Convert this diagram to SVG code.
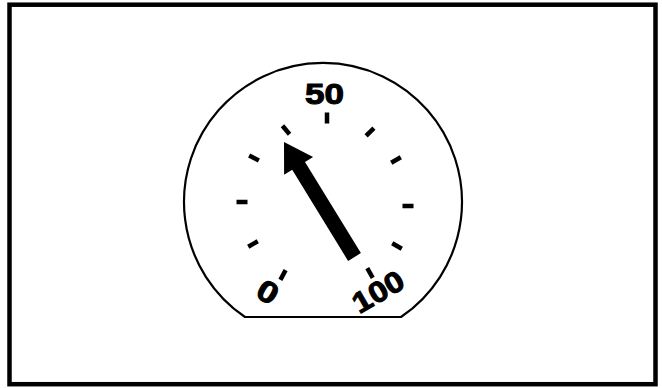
<svg xmlns="http://www.w3.org/2000/svg" width="662" height="388" viewBox="0 0 662 388">
<style>
.frame{fill:#fff;stroke:#000;stroke-width:4.5}
.dial{fill:#fff;stroke:#000;stroke-width:2.2}
.tick{fill:#000}
.lbl{font-family:"Liberation Sans",Arial,sans-serif;font-weight:bold;fill:#000;stroke:#000;stroke-width:1;text-anchor:middle}
.needle{fill:#000}
</style>
<rect width="662" height="388" fill="#fff"/>
<rect class="frame" x="9.5" y="4.7" width="646" height="379.5"/>
<g id="dial">
<path class="dial" d="M245 317 A139 139 0 1 1 401 317 Z"/>
</g>
<g id="ticks">
<rect class="tick" x="-2.25" y="-5.5" width="4.5" height="11" transform="translate(327,118)"/>
<rect class="tick" x="-2.25" y="-5.5" width="4.5" height="11" transform="translate(286,130) rotate(-40)"/>
<rect class="tick" x="-2.25" y="-5.5" width="4.5" height="11" transform="translate(370,132) rotate(45)"/>
<rect class="tick" x="-2.25" y="-5.5" width="4.5" height="11" transform="translate(254,158) rotate(-62)"/>
<rect class="tick" x="-2.25" y="-5.5" width="4.5" height="11" transform="translate(396,160) rotate(60)"/>
<rect class="tick" x="-2.25" y="-5.5" width="4.5" height="11" transform="translate(242,202) rotate(-90)"/>
<rect class="tick" x="-2.25" y="-5.5" width="4.5" height="11" transform="translate(408,206) rotate(90)"/>
<rect class="tick" x="-2.25" y="-5.5" width="4.5" height="11" transform="translate(253,244) rotate(-120)"/>
<rect class="tick" x="-2.25" y="-5.5" width="4.5" height="11" transform="translate(397,246) rotate(120)"/>
<rect class="tick" x="-2.25" y="-5.5" width="4.5" height="11" transform="translate(283,275) rotate(-152)"/>
<rect class="tick" x="-2.25" y="-5.5" width="4.5" height="11" transform="translate(370,273) rotate(150)"/>
</g>
<g id="labels">
<text class="lbl" x="324.5" y="103.5" font-size="29" textLength="39" lengthAdjust="spacingAndGlyphs">50</text>
<text class="lbl" font-size="30" transform="translate(268,292) rotate(30)" y="10.5" textLength="20" lengthAdjust="spacingAndGlyphs">0</text>
<text class="lbl" font-size="29" transform="translate(378,291.5) rotate(-30)" y="10.3" textLength="55" lengthAdjust="spacingAndGlyphs">100</text>
</g>
<g id="needle">
<polygon class="needle" points="284,142 313.1,157 305,162 360.9,253.1 348.1,260.9 292.2,169.8 284.1,174.8"/>
</g>
</svg>
